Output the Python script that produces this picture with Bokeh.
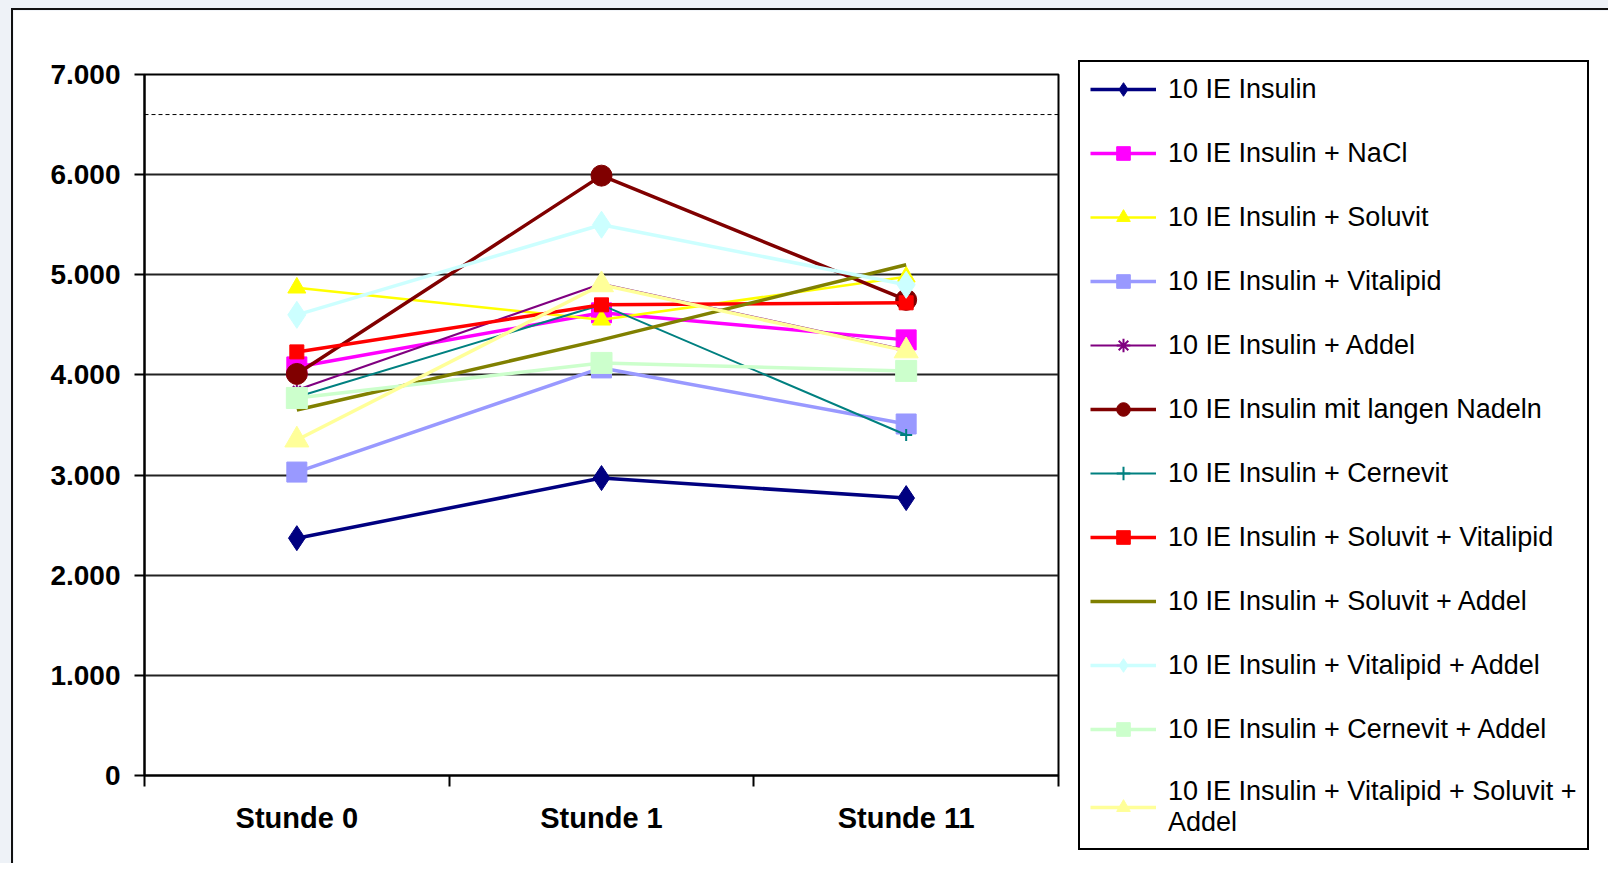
from bokeh.plotting import figure
from bokeh.models import (FactorRange, Range1d, CategoricalAxis, FixedTicker,
                          Legend, LegendItem, Span, CategoricalScale)
from bokeh.layouts import column
from bokeh.embed import file_html
from bokeh.resources import INLINE

# ---------------- data ----------------
categories = ["Stunde 0", "Stunde 1", "Stunde 11"]

insulin = [2370, 2970, 2770]
insulin_nacl = [4080, 4620, 4350]
insulin_soluvit = [4870, 4550, 4980]
insulin_vitalipid = [3030, 4070, 3510]
insulin_addel = [3850, 4910, 4250]
insulin_lange_nadeln = [4010, 5990, 4750]
insulin_cernevit = [3780, 4700, 3400]
insulin_soluvit_vitalipid = [4230, 4700, 4720]
insulin_soluvit_addel = [3650, 4350, 5100]
insulin_vitalipid_addel = [4600, 5500, 4900]
insulin_cernevit_addel = [3770, 4120, 4040]
insulin_vitalipid_soluvit_addel = [3350, 4900, 4240]

series_names = [
    "10 IE Insulin",
    "10 IE Insulin + NaCl",
    "10 IE Insulin + Soluvit",
    "10 IE Insulin + Vitalipid",
    "10 IE Insulin + Addel",
    "10 IE Insulin mit langen Nadeln",
    "10 IE Insulin + Cernevit",
    "10 IE Insulin + Soluvit + Vitalipid",
    "10 IE Insulin + Soluvit + Addel",
    "10 IE Insulin + Vitalipid + Addel",
    "10 IE Insulin + Cernevit + Addel",
    "10 IE Insulin + Vitalipid + Soluvit +\nAddel",
]
series_values = [
    insulin, insulin_nacl, insulin_soluvit, insulin_vitalipid, insulin_addel,
    insulin_lange_nadeln, insulin_cernevit, insulin_soluvit_vitalipid,
    insulin_soluvit_addel, insulin_vitalipid_addel, insulin_cernevit_addel,
    insulin_vitalipid_soluvit_addel,
]

y_tick_values = [0, 1000, 2000, 3000, 4000, 5000, 6000, 7000]
y_tick_labels = ["0", "1.000", "2.000", "3.000", "4.000", "5.000", "6.000", "7.000"]
reference_level = 6600

# ---------------- styles ----------------
styles = [
    dict(color="#000080", width=3.5, marker="diamond", size=25),
    dict(color="#FF00FF", width=3.5, marker="square", size=20),
    dict(color="#FFFF00", width=2.5, marker="triangle", size=18),
    dict(color="#9999FF", width=3.5, marker="square", size=20),
    dict(color="#800080", width=2, marker="asterisk", size=11),
    dict(color="#800000", width=3.5, marker="circle", size=21),
    dict(color="#008080", width=2, marker="cross", size=12),
    dict(color="#FF0000", width=3.5, marker="square", size=14),
    dict(color="#808000", width=3.5, marker=None, size=0),
    dict(color="#CCFFFF", width=3.5, marker="diamond", size=27),
    dict(color="#CCFFCC", width=3.5, marker="square", size=21),
    dict(color="#FFFF99", width=3.5, marker="triangle", size=24),
]

p = figure(
    x_range=FactorRange(*categories),
    y_range=Range1d(0, 7000),
    x_axis_location=None,
    frame_width=912, frame_height=699,
    min_border_left=131, min_border_top=64, min_border_bottom=90, min_border_right=540,
    output_backend="svg", toolbar_location=None,
    background_fill_color="white", border_fill_color="white",
)
p.outline_line_color = "black"
p.outline_line_width = 2
p.xgrid.visible = False

# y axis
ytick = FixedTicker(ticks=y_tick_values)
p.yaxis.ticker = ytick
p.yaxis.major_label_overrides = {v: t for v, t in zip(y_tick_values, y_tick_labels)}
p.yaxis.minor_tick_line_color = None
p.yaxis.major_tick_out = 10
p.yaxis.major_tick_in = 0
p.yaxis.major_tick_line_width = 2
p.yaxis.axis_line_width = 2
p.yaxis.axis_line_color = "black"
p.yaxis.major_tick_line_color = "black"
p.yaxis.major_label_standoff = 14
p.yaxis.major_label_text_font = "Liberation Sans"
p.yaxis.major_label_text_font_style = "bold"
p.yaxis.major_label_text_font_size = "28px"
p.yaxis.major_label_text_color = "black"

p.ygrid.ticker = ytick
p.ygrid.grid_line_color = "#222222"
p.ygrid.grid_line_width = 2

# x axis: boundary ticks (factor range shifted by half a category) + category labels
edge_factors = ["b%d" % i for i in range(len(categories) + 1)]
p.extra_x_ranges = {"edges": FactorRange(factors=edge_factors, range_padding=-0.499,
                                         range_padding_units="absolute")}
p.extra_x_scales = {"edges": CategoricalScale()}
edge_axis = CategoricalAxis(
    x_range_name="edges",
    major_label_text_font_size="0px", major_label_text_alpha=0, major_label_standoff=0,
    major_tick_out=11, major_tick_in=0, major_tick_line_width=2,
    axis_line_width=2, axis_line_color="black", major_tick_line_color="black",
)
p.add_layout(edge_axis, "below")
cat_axis = CategoricalAxis(
    axis_line_color=None, major_tick_line_color=None, minor_tick_line_color=None,
    major_label_standoff=9,
    major_label_text_font="Liberation Sans", major_label_text_font_style="bold",
    major_label_text_font_size="29px", major_label_text_color="black",
)
p.add_layout(cat_axis, "below")

# reference dashed line
p.add_layout(Span(location=reference_level, dimension="width", line_color="black",
                  line_width=1, line_dash="4 3"))

items = []
for name, vals, st in zip(series_names, series_values, styles):
    rs = [p.line(categories, vals, line_color=st["color"], line_width=st["width"])]
    if st["marker"]:
        rs.append(p.scatter(categories, vals, marker=st["marker"], size=st["size"],
                            fill_color=st["color"], line_color=st["color"],
                            line_width=2 if st["marker"] in ("asterisk", "cross") else 1))
    items.append(LegendItem(label=name, renderers=rs))

legend = Legend(
    items=items, location=(20, -75), orientation="vertical",
    border_line_color="black", border_line_width=2, border_line_alpha=1,
    padding=10, spacing=30, margin=0,
    glyph_width=66, glyph_height=34, label_height=34, label_standoff=12,
    label_text_font="Liberation Sans", label_text_font_size="27px",
    label_text_color="black", background_fill_color="white",
)
p.add_layout(legend, "right")

p.styles = {"border-top": "2px solid #111", "border-left": "2px solid #111"}
page = column(p, styles={"background-color": "#eef2f7", "padding-left": "11px",
                         "padding-top": "8px"})

open("out.html", "w").write(file_html(page, INLINE))
